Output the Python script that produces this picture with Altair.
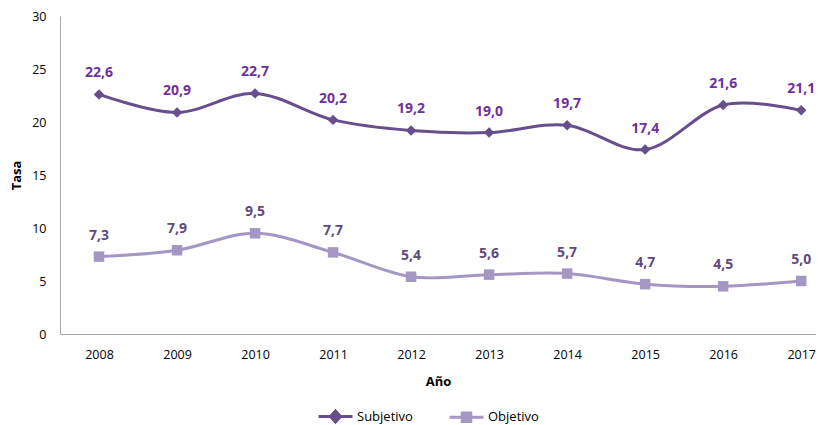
import altair as alt
import pandas as pd

years = [2008, 2009, 2010, 2011, 2012, 2013, 2014, 2015, 2016, 2017]
subjetivo = [22.6, 20.9, 22.7, 20.2, 19.2, 19.0, 19.7, 17.4, 21.6, 21.1]
objetivo = [7.3, 7.9, 9.5, 7.7, 5.4, 5.6, 5.7, 4.7, 4.5, 5.0]
series = ["Subjetivo", "Objetivo"]
line_colors = ["#664f8c", "#a597c3"]
label_colors = ["#7030a0", "#5f4a7d"]
marker_shapes = ["diamond", "square"]

rows = []
for y, s, o in zip(years, subjetivo, objetivo):
    rows.append({"year": y, "serie": "Subjetivo", "v": s})
    rows.append({"year": y, "serie": "Objetivo", "v": o})
df = pd.DataFrame(rows)

FONT = "Open Sans"

x = alt.X("year:Q", title="Año",
          scale=alt.Scale(domain=[2007.5, 2017.19], nice=False, zero=False),
          axis=alt.Axis(values=years, format="d", ticks=False, grid=False,
                        labelPadding=14, titlePadding=15, domainColor="#a6a6a6"))
y = alt.Y("v:Q", title="Tasa",
          scale=alt.Scale(domain=[0, 30], nice=False),
          axis=alt.Axis(values=[0, 5, 10, 15, 20, 25, 30], ticks=False, grid=False,
                        labelPadding=14, titlePadding=8, domainColor="#a6a6a6"))

base = alt.Chart(df)

layers = []
for name, lc, tc, shp in zip(series, line_colors, label_colors, marker_shapes):
    sub = base.transform_filter(alt.datum.serie == name)
    layers.append(sub.mark_line(interpolate="cardinal", strokeWidth=3, color=lc).encode(x=x, y=y))
    layers.append(sub.mark_point(shape=shp, filled=True, size=110, opacity=1, color=lc).encode(x=x, y=y))
    layers.append(sub.transform_calculate(
        lbl="replace(format(datum.v, '.1f'), '.', ',')"
    ).mark_text(dy=-21, fontSize=14, fontWeight="bold", font=FONT, color=tc).encode(
        x=x, y=y, text="lbl:N"))

legend_paths = [
    "M-3.4,0H3.4M0,-1.1L1,0L0,1.1L-1,0Z",
    "M-3.4,0H3.4M-0.85,-0.85H0.85V0.85H-0.85Z",
]
legend_layer = base.transform_filter("datum.year > 3000").mark_point(
    filled=False, strokeWidth=2.5, opacity=1
).encode(
    x=x, y=y,
    color=alt.Color("serie:N", scale=alt.Scale(domain=series, range=line_colors), title=None,
                    legend=alt.Legend(orient="none", direction="horizontal",
                                      legendX=269, legendY=394,
                                      symbolSize=100, symbolStrokeWidth=3,
                                      labelOffset=15, columnPadding=30,
                                      labelFontSize=13, labelFont=FONT,
                                      labelColor="#000000")),
    fill=alt.Fill("serie:N", scale=alt.Scale(domain=series, range=line_colors), title=None),
    shape=alt.Shape("serie:N", scale=alt.Scale(domain=series, range=legend_paths), title=None),
)
layers.append(legend_layer)

chart = alt.layer(*layers).properties(
    width=756, height=318, background="white",
    padding={"left": 2, "top": 2, "right": 0, "bottom": 0}
).configure_view(stroke=None).configure_axis(
    labelFont=FONT, labelFontSize=12.5, labelColor="#000000",
    titleFont=FONT, titleFontSize=13, titleFontWeight="bold", titleColor="#000000",
)

chart.save("out.html", embed_options={"renderer": "svg", "actions": False})
